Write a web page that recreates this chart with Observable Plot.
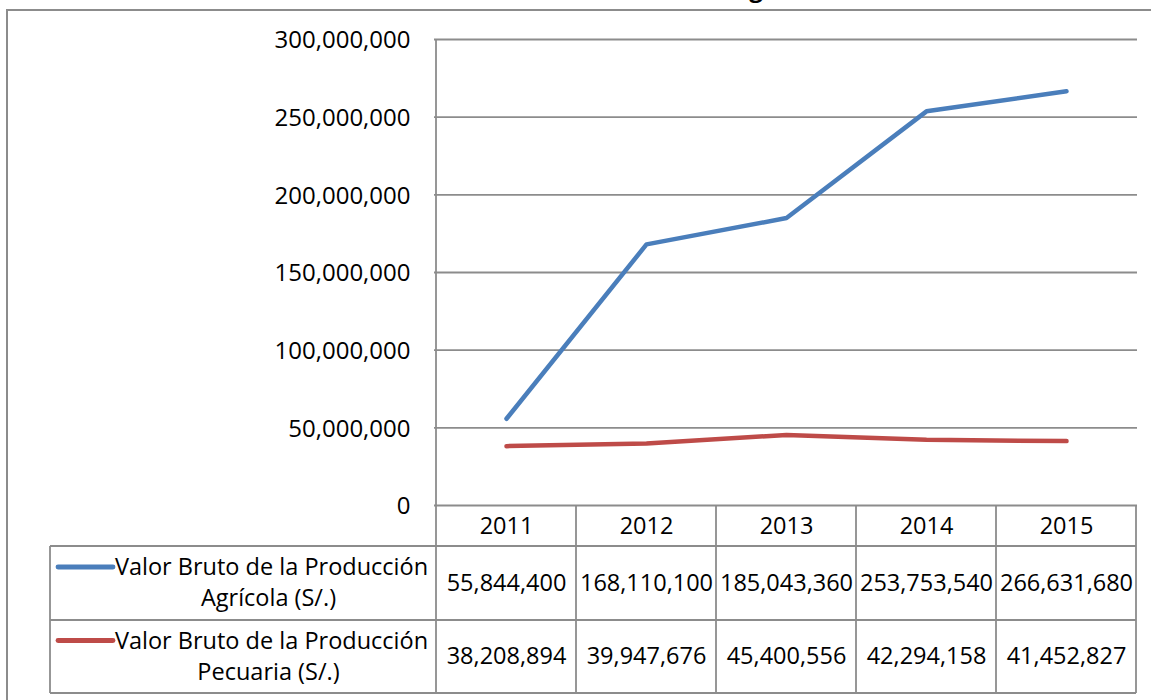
<!DOCTYPE html>
<html><head><meta charset="utf-8">
<script src="https://cdn.jsdelivr.net/npm/d3@7"></script>
<script src="https://cdn.jsdelivr.net/npm/@observablehq/plot@0.6"></script>
<style>
body{margin:0;background:#fff;}
#wrap{position:relative;width:1151px;height:700px;overflow:hidden;font-family:"Open Sans",sans-serif;}
#wrap svg{position:absolute;left:0;top:0;overflow:hidden;}
#border{position:absolute;left:6px;top:9px;width:1200px;height:800px;border-left:2px solid #8c8c8c;border-top:2px solid #8c8c8c;}
</style></head><body><div id="wrap"><div id="border"></div></div>
<script>
const title = "Valor Bruto de la Producción Agrícola";
const years = ["2011","2012","2013","2014","2015"];
const agricola = [55844400,168110100,185043360,253753540,266631680];
const pecuaria = [38208894,39947676,45400556,42294158,41452827];
const seriesNames = ["Valor Bruto de la Producción Agrícola (S/.)","Valor Bruto de la Producción Pecuaria (S/.)"];
const seriesLabelLines = [["Valor Bruto de la Producción","Agrícola (S/.)"],["Valor Bruto de la Producción","Pecuaria (S/.)"]];
const seriesColors = ["#4A7EBB","#BE4B48"];
const yTicks = [0,50000000,100000000,150000000,200000000,250000000,300000000];

const seriesValues = [agricola, pecuaria];
const data = seriesNames.flatMap((s,k)=>years.map((yr,i)=>({series:s, year:yr, value:seriesValues[k][i]})));
const fmt = d3.format(",");
const gridColor = "#8c8c8c";
const rowH = [41, 74, 73]; // header row, row 1, row 2 heights

const W = 1151, H = 700;
const mL = 434, mR = 14, mT = 39, mB = 195;
const rowCenters = [rowH[0] + rowH[1]/2, rowH[0] + rowH[1] + rowH[2]/2];
const textShift = 7;
const lineGap = 31;

const valueMarks = seriesNames.map((s, k) =>
  Plot.text(data.filter(d => d.series === s), {x: "year", text: d => fmt(d.value), frameAnchor: "bottom", dy: rowCenters[k] + textShift}));
const labelMarks = seriesLabelLines.flatMap((lines, k) => lines.map((ln, j) =>
  Plot.text([ln], {text: d => d, frameAnchor: "bottom-left", dx: -163 - (j === 1 ? 3 : 0),
    dy: rowCenters[k] + textShift + (j - 0.5) * lineGap, textAnchor: "middle"})));

const chart = Plot.plot({
  width: W, height: H,
  marginLeft: mL, marginRight: mR, marginTop: mT, marginBottom: mB,
  style: {fontFamily: "'Open Sans', sans-serif", fontSize: "23.5px", color: "#000", background: "transparent", overflow: "visible"},
  x: {type: "band", domain: years, padding: 0, label: null},
  y: {domain: [0, 300000000], label: null},
  color: {domain: seriesNames, range: seriesColors},
  marks: [
    Plot.ruleY(yTicks, {stroke: gridColor, strokeWidth: 1.8}),
    Plot.axisY({ticks: yTicks, tickFormat: fmt, tickSize: 0, tickPadding: 24, label: null, fontSize: 24, dy: 1}),
    Plot.axisX({tickSize: 0, tickPadding: 12, label: null}),
    Plot.line(data, {x: "year", y: "value", z: "series", stroke: "series", strokeWidth: 4.5, strokeLinecap: "round", strokeLinejoin: "round"}),
    ...valueMarks,
    ...labelMarks
  ]
});
document.getElementById("wrap").appendChild(chart);

// Data table grid lines and legend keys, positioned from Plot's x scale
const xs = chart.scale("x");
const bw = xs.bandwidth;
const svg = d3.select(chart);
const g = svg.append("g").attr("stroke", gridColor).attr("stroke-width", 1.8).attr("fill", "none");
const y0 = H - mB;
const yRow1 = y0 + rowH[0], yRow2 = yRow1 + rowH[1], yEnd = yRow2 + rowH[2];
const xStart = xs.apply(years[0]);
const xEnd = xs.apply(years[years.length-1]) + bw;
const tableLeft = 50;
g.append("line").attr("x1", xStart).attr("x2", xStart).attr("y1", mT).attr("y2", yEnd);
years.forEach((yr, i) => {
  if (i > 0) g.append("line").attr("x1", xs.apply(yr)).attr("x2", xs.apply(yr)).attr("y1", y0).attr("y2", yEnd);
});
g.append("line").attr("x1", xEnd).attr("x2", xEnd).attr("y1", y0).attr("y2", yEnd);
g.append("line").attr("x1", tableLeft).attr("x2", tableLeft).attr("y1", yRow1).attr("y2", yEnd);
[yRow1, yRow2, yEnd].forEach(yy => g.append("line").attr("x1", tableLeft).attr("x2", xEnd).attr("y1", yy).attr("y2", yy));
// legend keys, aligned with the first label line
[yRow1 + rowH[1]/2 - 16, yRow2 + rowH[2]/2 - 16].forEach((yy, k) => {
  svg.append("line").attr("x1", 58).attr("x2", 113).attr("y1", yy).attr("y2", yy)
    .attr("stroke", seriesColors[k]).attr("stroke-width", 4.8).attr("stroke-linecap", "round");
});
// title (cut off at the top edge in the original)
svg.append("text").attr("x", 830).attr("y", -3).attr("text-anchor", "end")
  .attr("font-weight", "bold").attr("font-size", 24).attr("fill", "#000").text(title);
</script>
</body></html>
